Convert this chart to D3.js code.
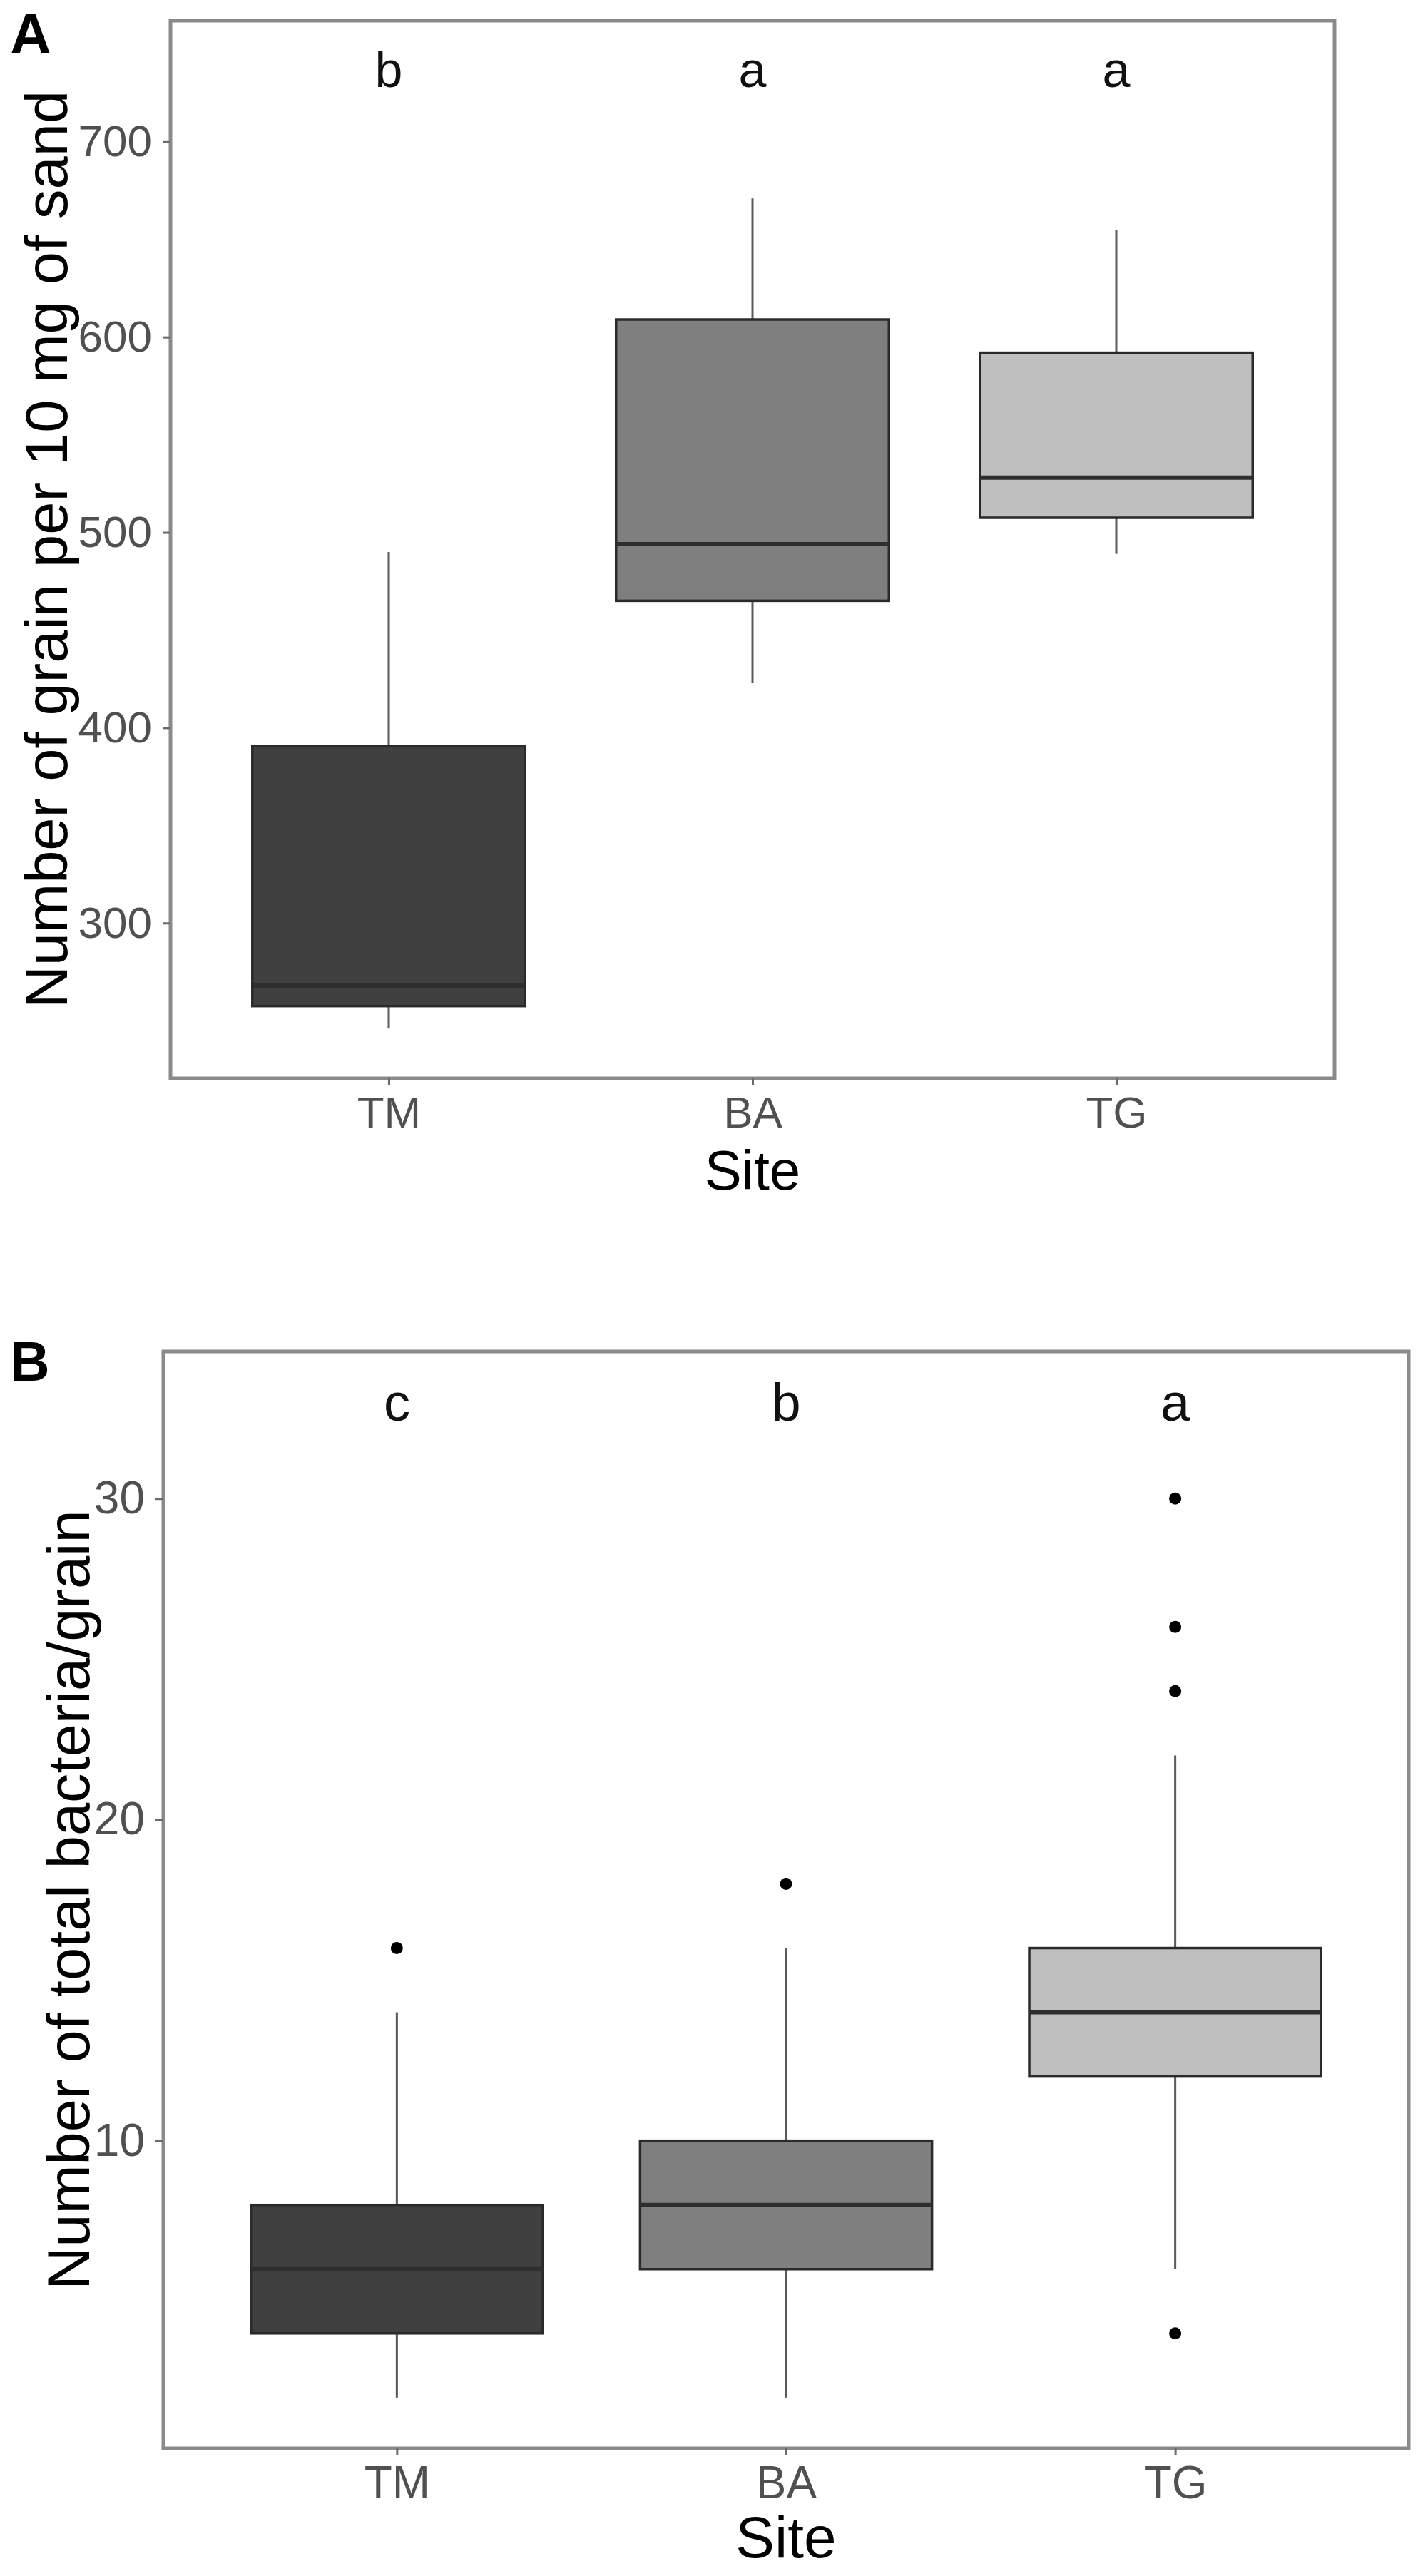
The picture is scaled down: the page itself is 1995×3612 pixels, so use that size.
<!DOCTYPE html>
<html>
<head>
<meta charset="utf-8">
<script src="https://cdn.jsdelivr.net/npm/d3@7"></script>
<style>
  html, body { margin: 0; padding: 0; background: #fff; }
  svg { display: block; font-family: "Liberation Sans", Arial, sans-serif; }
</style>
</head>
<body>
<svg id="chart" width="1995" height="3612"></svg>
<script>
// ---------- DATA ----------
const sites = ["TM", "BA", "TG"];
const fills = ["#404040", "#7f7f7f", "#bfbfbf"];

// Panel A: Number of grain per 10 mg of sand
const grainLower  = [246, 423, 489];
const grainQ1     = [257.5, 465, 507.5];
const grainMedian = [268, 494, 528];
const grainQ3     = [390.5, 609, 592];
const grainUpper  = [490, 671, 655];
const grainOutliers = [[], [], []];
const grainLetters = ["b", "a", "a"];
const grainTicks = [300, 400, 500, 600, 700];

// Panel B: Number of total bacteria/grain
const bactLower  = [2, 2, 6];
const bactQ1     = [4, 6, 12];
const bactMedian = [6, 8, 14];
const bactQ3     = [8, 10, 16];
const bactUpper  = [14, 16, 22];
const bactOutliers = [[16], [18], [30, 26, 24, 4]];
const bactLetters = ["c", "b", "a"];
const bactTicks = [10, 20, 30];

// ---------- DRAW ----------
const svg = d3.select("#chart");

function panel(cfg) {
  const g = svg.append("g");
  const x = d3.scalePoint().domain(sites).range([cfg.left, cfg.right]).padding(0.6);
  const y = d3.scaleLinear().domain(cfg.yDomain).range([cfg.bottom, cfg.top]);
  const bw = x.step() * 0.75;

  const stats = sites.map((s, i) => ({
    site: s, fill: fills[i],
    lo: cfg.lower[i], q1: cfg.q1[i], med: cfg.median[i], q3: cfg.q3[i], hi: cfg.upper[i],
    out: cfg.outliers[i], letter: cfg.letters[i]
  }));

  // whiskers
  const bx = g.selectAll("g.box").data(stats).join("g").attr("class", "box");
  bx.append("line")
    .attr("x1", d => x(d.site)).attr("x2", d => x(d.site))
    .attr("y1", d => y(d.q3)).attr("y2", d => y(d.hi))
    .attr("stroke", "#5a5a5a").attr("stroke-width", 3);
  bx.append("line")
    .attr("x1", d => x(d.site)).attr("x2", d => x(d.site))
    .attr("y1", d => y(d.q1)).attr("y2", d => y(d.lo))
    .attr("stroke", "#5a5a5a").attr("stroke-width", 3);
  // boxes
  bx.append("rect")
    .attr("x", d => x(d.site) - bw / 2).attr("width", bw)
    .attr("y", d => y(d.q3)).attr("height", d => y(d.q1) - y(d.q3))
    .attr("fill", d => d.fill).attr("stroke", "#2a2a2a").attr("stroke-width", 3.5);
  // medians
  bx.append("line")
    .attr("x1", d => x(d.site) - bw / 2).attr("x2", d => x(d.site) + bw / 2)
    .attr("y1", d => y(d.med)).attr("y2", d => y(d.med))
    .attr("stroke", "#2e2e2e").attr("stroke-width", 6);
  // outliers
  bx.selectAll("circle").data(d => d.out.map(v => ({ site: d.site, v })))
    .join("circle")
    .attr("cx", d => x(d.site)).attr("cy", d => y(d.v)).attr("r", 8.5)
    .attr("fill", "#000");
  // significance letters
  g.selectAll("text.letter").data(stats).join("text").attr("class", "letter")
    .attr("x", d => x(d.site)).attr("y", y(cfg.letterY))
    .attr("dy", "0.35em")
    .attr("text-anchor", "middle")
    .attr("font-size", cfg.letterSize).attr("fill", "#111")
    .text(d => d.letter);

  // panel border
  g.append("rect")
    .attr("x", cfg.left).attr("y", cfg.top)
    .attr("width", cfg.right - cfg.left).attr("height", cfg.bottom - cfg.top)
    .attr("fill", "none").attr("stroke", "#8a8a8a").attr("stroke-width", 5);

  // y axis
  const ya = g.append("g").attr("transform", `translate(${cfg.left},0)`)
    .call(d3.axisLeft(y).tickValues(cfg.ticks).tickSize(11).tickPadding(15).tickFormat(d3.format("d")));
  ya.select(".domain").remove();
  ya.selectAll(".tick line").attr("stroke", "#6a6a6a").attr("stroke-width", 3);
  ya.selectAll(".tick text").attr("font-size", cfg.tickSize).attr("fill", "#505050")
    .attr("font-family", "Liberation Sans, Arial, sans-serif");

  // x axis
  const xa = g.append("g").attr("transform", `translate(0,${cfg.bottom})`)
    .call(d3.axisBottom(x).tickSize(9).tickPadding(16));
  xa.select(".domain").remove();
  xa.selectAll(".tick line").attr("stroke", "#6a6a6a").attr("stroke-width", 3);
  xa.selectAll(".tick text").attr("font-size", cfg.tickSize).attr("fill", "#505050")
    .attr("font-family", "Liberation Sans, Arial, sans-serif");

  // axis titles
  g.append("text")
    .attr("x", (cfg.left + cfg.right) / 2).attr("y", cfg.xTitleY)
    .attr("text-anchor", "middle").attr("font-size", cfg.titleSize).attr("fill", "#000")
    .text("Site");
  g.append("text")
    .attr("transform", `translate(${cfg.yTitleX},${(cfg.top + cfg.bottom) / 2}) rotate(-90)`)
    .attr("text-anchor", "middle").attr("font-size", cfg.yTitleSize).attr("fill", "#000")
    .text(cfg.yTitle);

  // panel tag
  g.append("text")
    .attr("x", 14).attr("y", cfg.tagY)
    .attr("font-size", cfg.tagSize).attr("font-weight", "bold").attr("fill", "#000")
    .text(cfg.tag);
}

panel({
  left: 239, right: 1871, top: 29, bottom: 1512,
  yDomain: [220.5, 762],
  lower: grainLower, q1: grainQ1, median: grainMedian, q3: grainQ3, upper: grainUpper,
  outliers: grainOutliers, letters: grainLetters, letterY: 737,
  ticks: grainTicks,
  tickSize: 62, letterSize: 70, titleSize: 78, yTitleSize: 83,
  xTitleY: 1668, yTitleX: 94,
  yTitle: "Number of grain per 10 mg of sand",
  tag: "A", tagY: 75, tagSize: 80
});

panel({
  left: 229, right: 1975, top: 1895, bottom: 3433,
  yDomain: [0.42, 34.58],
  lower: bactLower, q1: bactQ1, median: bactMedian, q3: bactQ3, upper: bactUpper,
  outliers: bactOutliers, letters: bactLetters, letterY: 33,
  ticks: bactTicks,
  tickSize: 64, letterSize: 74, titleSize: 82, yTitleSize: 83,
  xTitleY: 3586, yTitleX: 125,
  yTitle: "Number of total bacteria/grain",
  tag: "B", tagY: 1936, tagSize: 77
});
</script>
</body>
</html>
